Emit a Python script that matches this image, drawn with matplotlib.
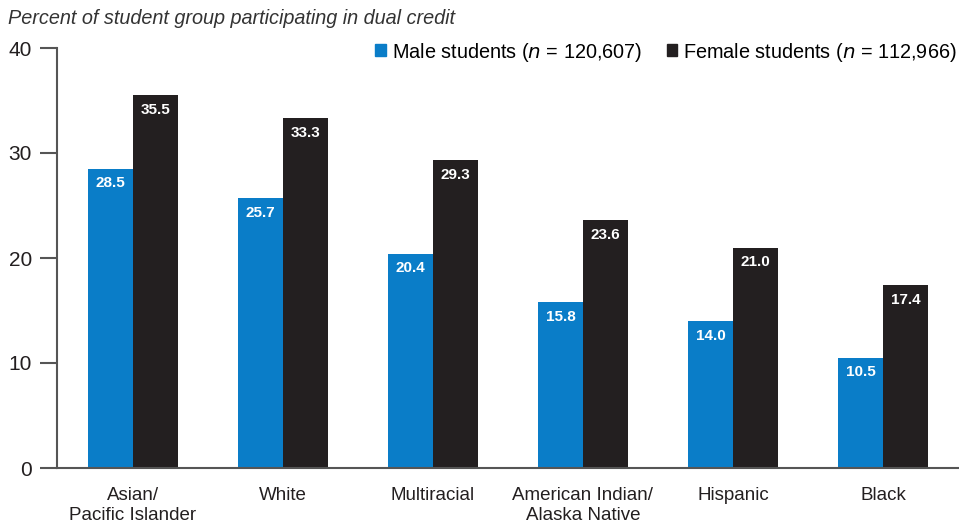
import matplotlib
matplotlib.use("Agg")
import matplotlib.pyplot as plt
import numpy as np

groups = ["Asian/\nPacific Islander", "White", "Multiracial",
          "American Indian/\nAlaska Native", "Hispanic", "Black"]
male = [28.5, 25.7, 20.4, 15.8, 14.0, 10.5]
female = [35.5, 33.3, 29.3, 23.6, 21.0, 17.4]
yticks = [0, 10, 20, 30, 40]

BLUE = "#0a7dc8"
BLACK = "#231f20"
GRAY = "#555555"

plt.rcParams['font.family'] = ['Liberation Sans', 'DejaVu Sans']

fig = plt.figure(figsize=(9.59, 5.23), dpi=100)
ax = fig.add_axes([57 / 959, 1 - 468 / 523, 1 - 57 / 959, (468 - 48) / 523])

x = np.arange(len(groups))
w = 0.3
b1 = ax.bar(x - w / 2, male, w, color=BLUE)
b2 = ax.bar(x + w / 2, female, w, color=BLACK)

for bars, vals in ((b1, male), (b2, female)):
    for r, v in zip(bars, vals):
        ax.text(r.get_x() + r.get_width() / 2, v - 1.4, f"{v:.1f}",
                ha="center", va="center", color="white",
                fontsize=11, fontweight="bold")

ax.set_xlim(-0.507, 5.507)
ax.set_ylim(0, 40)
ax.set_yticks(yticks)
ax.set_yticklabels([str(t) for t in yticks], fontsize=15, color=BLACK)
ax.set_xticks(x)
ax.set_xticklabels(groups, fontsize=13.5, color=BLACK, linespacing=1.2)
ax.tick_params(axis="x", length=0, pad=14)
ax.tick_params(axis="y", length=12, width=1.5, color=GRAY, pad=6)

for s in ("top", "right"):
    ax.spines[s].set_visible(False)
ax.spines["left"].set_color(GRAY)
ax.spines["left"].set_linewidth(1.5)
ax.spines["bottom"].set_color(GRAY)
ax.spines["bottom"].set_linewidth(1.5)

fig.text(8 / 959, 1 - 18 / 523, "Percent of student group participating in dual credit",
         fontsize=14.3, style="italic", color="#333333", va="center")

handles = [plt.Rectangle((0, 0), 1, 1, color=BLUE),
           plt.Rectangle((0, 0), 1, 1, color=BLACK)]
labels = ["Male students ($\\it{n}$ = 120,607)", "Female students ($\\it{n}$ = 112,966)"]
fig.legend(handles, labels, loc="center right", bbox_to_anchor=(1.0, 1 - 52 / 523),
           ncol=2, frameon=False, fontsize=14.3, handlelength=0.55, handleheight=0.55,
           handletextpad=0.3, columnspacing=1.2, borderaxespad=0, borderpad=0.1)

fig.savefig("out.png", dpi=100)
